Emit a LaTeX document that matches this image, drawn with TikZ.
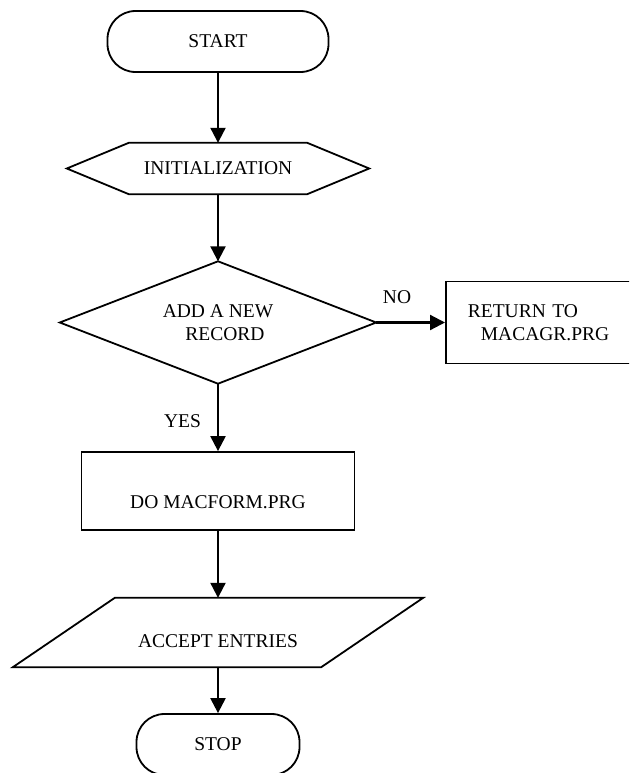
\documentclass[tikz,border=0pt]{standalone}
\usepackage{fontspec}
\setmainfont{Liberation Serif}
\usetikzlibrary{arrows.meta}
\tikzset{
	term/.style={draw,line width=1.8pt,rounded corners=28pt,minimum height=61pt,inner sep=0pt},
	box/.style={minimum height=#1,inner sep=0pt,align=center},
	outline/.style={line width=1.8pt,line join=miter},
	flow/.style={line width=2.2pt,-{Triangle[length=15pt,width=15pt]}},
}
\begin{document}
\begin{tikzpicture}[x=1pt,y=-1pt,font=\fontsize{19.5}{23.5}\selectfont]
				\path[use as bounding box,clip] (0,0) rectangle (629,773);
				\node[term,minimum width=221pt] (start) at (218,41.5) {START};
				\node[box=51pt,minimum width=302pt] (init) at (218,168.5) {INITIALIZATION};
				\node[box=122pt,minimum width=316pt] (rec) at (218,322.5) {ADD A NEW\\\hspace*{14pt}RECORD};
				\node[draw,line width=1.8pt,anchor=west,minimum height=82pt,text width=171pt,inner xsep=22pt,align=left] (ret) at (445,322.5) {RETURN TO\\\hspace*{13pt}MACAGR.PRG};
				\node[box=78pt,draw,line width=1.8pt,minimum width=273pt] (do) at (218,491) {\raisebox{-17pt}[0pt][0pt]{DO MACFORM.PRG}};
				\node[box=69pt,minimum width=410pt] (acc) at (218,632.5) {\raisebox{-15pt}[0pt][0pt]{ACCEPT ENTRIES}};
				\node[term,minimum width=163pt] (stop) at (218,744.5) {STOP};
				\node (yes) at (182.5,421) {YES};
				\node (no) at (397,297) {NO};
				% outlines
				\draw[outline] (init.west) -- ([xshift=62pt]init.north west) -- ([xshift=-62pt]init.north east) -- (init.east) -- ([xshift=-62pt]init.south east) -- ([xshift=62pt]init.south west) -- cycle;
				\draw[outline] (rec.north) -- (rec.east) -- (rec.south) -- (rec.west) -- cycle;
				\draw[outline] ([xshift=102pt]acc.north west) -- (acc.north east) -- ([xshift=-102pt]acc.south east) -- (acc.south west) -- cycle;
				% arrows
				\draw[flow] (start) -- (init);
				\draw[flow] (init) -- (rec);
				\draw[flow] (rec) -- (ret);
				\draw[flow] (rec) -- (do);
				\draw[flow] (do) -- (acc);
				\draw[flow] (acc) -- (stop);
\end{tikzpicture}
\end{document}
